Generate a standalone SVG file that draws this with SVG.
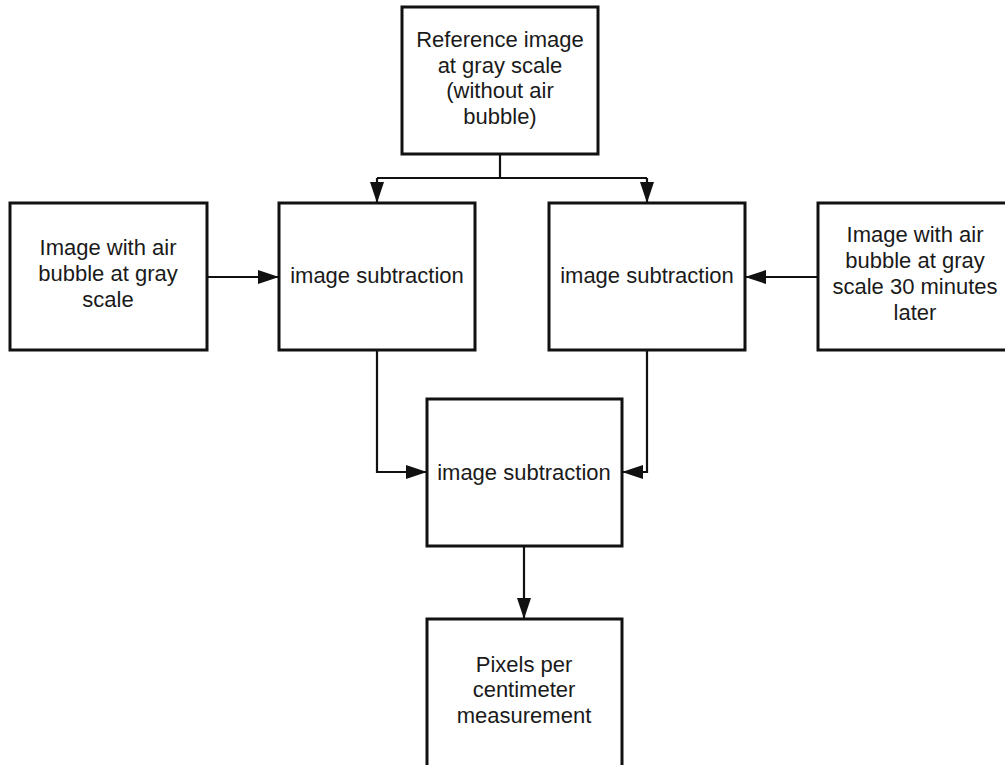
<svg xmlns="http://www.w3.org/2000/svg" width="1005" height="765" viewBox="0 0 1005 765">
<style>
.box{fill:#fff;stroke:#111;stroke-width:3}
.t{font-family:"Liberation Sans",Arial,sans-serif;font-size:22px;fill:#1a1a1a;text-anchor:middle}
.c{fill:none;stroke:#111;stroke-width:2.2}
</style>
<defs>
<marker id="ah" markerUnits="userSpaceOnUse" markerWidth="22" markerHeight="14" refX="21" refY="7" orient="auto">
<path d="M0,0 L21,7 L0,14 Z" fill="#111"/>
</marker>
</defs>
<rect width="1005" height="765" fill="#fff"/>
<g id="connectors">
<path class="c" d="M500,154 V178"/>
<path class="c" d="M377,178 H647"/>
<path class="c" d="M377,178 V203" marker-end="url(#ah)"/>
<path class="c" d="M647,178 V203" marker-end="url(#ah)"/>
<path class="c" d="M207,277 H279" marker-end="url(#ah)"/>
<path class="c" d="M818,277 H745" marker-end="url(#ah)"/>
<path class="c" d="M377,350 V472 H427" marker-end="url(#ah)"/>
<path class="c" d="M647,350 V472 H622" marker-end="url(#ah)"/>
<path class="c" d="M524,546 V619" marker-end="url(#ah)"/>
</g>
<g id="ref">
<rect class="box" x="402" y="7" width="196" height="147"/>
<text class="t" x="500" y="47">Reference image</text>
<text class="t" x="500" y="73">at gray scale</text>
<text class="t" x="500" y="98">(without air</text>
<text class="t" x="500" y="124">bubble)</text>
</g>
<g id="img1">
<rect class="box" x="10" y="203" width="197" height="147"/>
<text class="t" x="108" y="255">Image with air</text>
<text class="t" x="108" y="281">bubble at gray</text>
<text class="t" x="108" y="307">scale</text>
</g>
<g id="sub1">
<rect class="box" x="279" y="203" width="196" height="147"/>
<text class="t" x="377" y="283">image subtraction</text>
</g>
<g id="sub2">
<rect class="box" x="549" y="203" width="196" height="147"/>
<text class="t" x="647" y="283">image subtraction</text>
</g>
<g id="img2">
<rect class="box" x="818" y="203" width="196" height="147"/>
<text class="t" x="915" y="242">Image with air</text>
<text class="t" x="915" y="268">bubble at gray</text>
<text class="t" x="915" y="294">scale 30 minutes</text>
<text class="t" x="915" y="320">later</text>
</g>
<g id="sub3">
<rect class="box" x="427" y="399" width="195" height="147"/>
<text class="t" x="524" y="480">image subtraction</text>
</g>
<g id="pixels">
<rect class="box" x="427" y="619" width="195" height="160"/>
<text class="t" x="524" y="672">Pixels per</text>
<text class="t" x="524" y="697">centimeter</text>
<text class="t" x="524" y="723">measurement</text>
</g>
</svg>
